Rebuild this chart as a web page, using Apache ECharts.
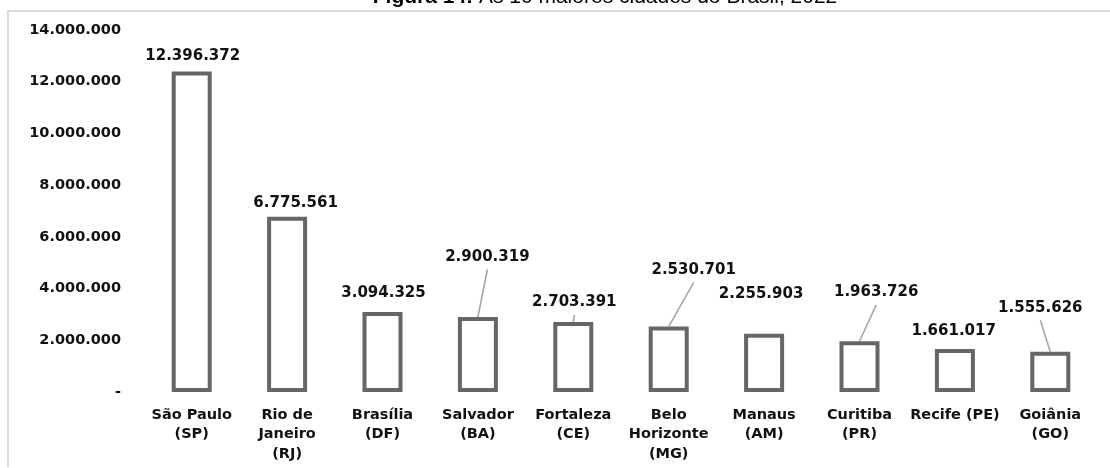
<!DOCTYPE html>
<html lang="pt-BR">
<head>
<meta charset="utf-8">
<title>As 10 maiores cidades do Brasil, 2022</title>
<script src="https://cdn.jsdelivr.net/npm/echarts@6/dist/echarts.min.js"></script>
<style>
  html, body { margin: 0; padding: 0; background: #fff; }
  #grafico { width: 1110px; height: 468px; }
</style>
</head>
<body>
<div id="grafico"></div>
<script>
// Cidades (rótulos do eixo X, com quebras de linha)
const cidades = [
  'São Paulo\n(SP)',
  'Rio de\nJaneiro\n(RJ)',
  'Brasília\n(DF)',
  'Salvador\n(BA)',
  'Fortaleza\n(CE)',
  'Belo\nHorizonte\n(MG)',
  'Manaus\n(AM)',
  'Curitiba\n(PR)',
  'Recife (PE)',
  'Goiânia\n(GO)'
];

// População residente, Censo 2022
const populacao = [12396372, 6775561, 3094325, 2900319, 2703391, 2530701, 2255903, 1963726, 1661017, 1555626];

// Escala do eixo Y
const eixoYMin = 0;
const eixoYMax = 14000000;
const eixoYPasso = 2000000;

// Deslocamento [dx, dy] de cada rótulo de valor em relação ao topo da barra
const deslocRotulo = [
  [1, -15.5], [8.5, -14], [1, -18.7], [9.5, -60], [1, -19.8],
  [25, -56.6], [-3, -39.7], [16.7, -48.9], [-1.2, -18.4], [-10, -44.1]
];
// Rótulos ligados à barra por uma linha guia
const comGuia = [false, false, false, true, true, true, false, true, false, true];

const FONTE = "'DejaVu Sans', Verdana, sans-serif";

function milhar(v) {
  return String(v).replace(/\B(?=(\d{3})+(?!\d))/g, '.');
}

const grafico = echarts.init(document.getElementById('grafico'), null, { renderer: 'canvas' });

grafico.setOption({
  animation: false,
  backgroundColor: '#ffffff',
  graphic: [
    {
      type: 'polyline',
      silent: true,
      shape: { points: [[8, 467], [8, 11], [1110, 11]] },
      style: { stroke: '#d9d9d9', lineWidth: 2, fill: null }
    },
    {
      type: 'text',
      silent: true,
      x: 605,
      y: -3,
      style: {
        text: '{b|Figura 14:} As 10 maiores cidades do Brasil, 2022',
        align: 'center',
        verticalAlign: 'middle',
        font: "21px 'Liberation Sans', Arial, sans-serif",
        fill: '#000',
        rich: {
          b: { fontWeight: 'bold', fontSize: 21, fontFamily: "'Liberation Sans', Arial, sans-serif", fill: '#000' }
        }
      }
    }
  ],
  grid: {
    left: 144,
    right: 12,
    top: 30,
    bottom: 76,
    containLabel: false,
    outerBoundsMode: 'none'
  },
  xAxis: {
    type: 'category',
    data: cidades,
    axisLine: { show: false },
    axisTick: { show: false },
    splitLine: { show: false },
    axisLabel: {
      interval: 0,
      margin: 13,
      color: '#111',
      fontFamily: FONTE,
      fontWeight: 'bold',
      fontSize: 14.5,
      lineHeight: 19.5
    }
  },
  yAxis: {
    type: 'value',
    min: eixoYMin,
    max: eixoYMax,
    interval: eixoYPasso,
    axisLine: { show: false },
    axisTick: { show: false },
    splitLine: { show: false },
    axisLabel: {
      margin: 23,
      color: '#111',
      fontFamily: FONTE,
      fontWeight: 'bold',
      fontSize: 14.5,
      formatter: v => (v === 0 ? '-' : milhar(v))
    }
  },
  series: [
    {
      type: 'bar',
      data: populacao,
      barWidth: 40,
      itemStyle: {
        color: '#ffffff',
        borderColor: '#666666',
        borderWidth: 4
      },
      label: { show: false },
      z: 2
    },
    {
      // Rótulos de valor e linhas guia, posicionados pelas escalas dos eixos
      type: 'custom',
      data: populacao.map((v, i) => [i, v]),
      z: 3,
      silent: true,
      renderItem: function (params, api) {
        const i = params.dataIndex;
        const v = api.value(1);
        const topo = api.coord([api.value(0), v]);
        const d = deslocRotulo[i];
        const cx = topo[0] + d[0];
        const cy = topo[1] + d[1];
        const filhos = [];
        if (comGuia[i]) {
          filhos.push({
            type: 'line',
            shape: { x1: cx, y1: cy + 12.5, x2: topo[0], y2: topo[1] },
            style: { stroke: '#a6a6a6', lineWidth: 1.6 }
          });
        }
        filhos.push({
          type: 'text',
          x: cx,
          y: cy,
          style: {
            text: milhar(v),
            align: 'center',
            verticalAlign: 'middle',
            font: "bold 15px 'DejaVu Sans', Verdana, sans-serif",
            fill: '#111'
          }
        });
        return { type: 'group', children: filhos };
      }
    }
  ]
});
</script>
</body>
</html>
